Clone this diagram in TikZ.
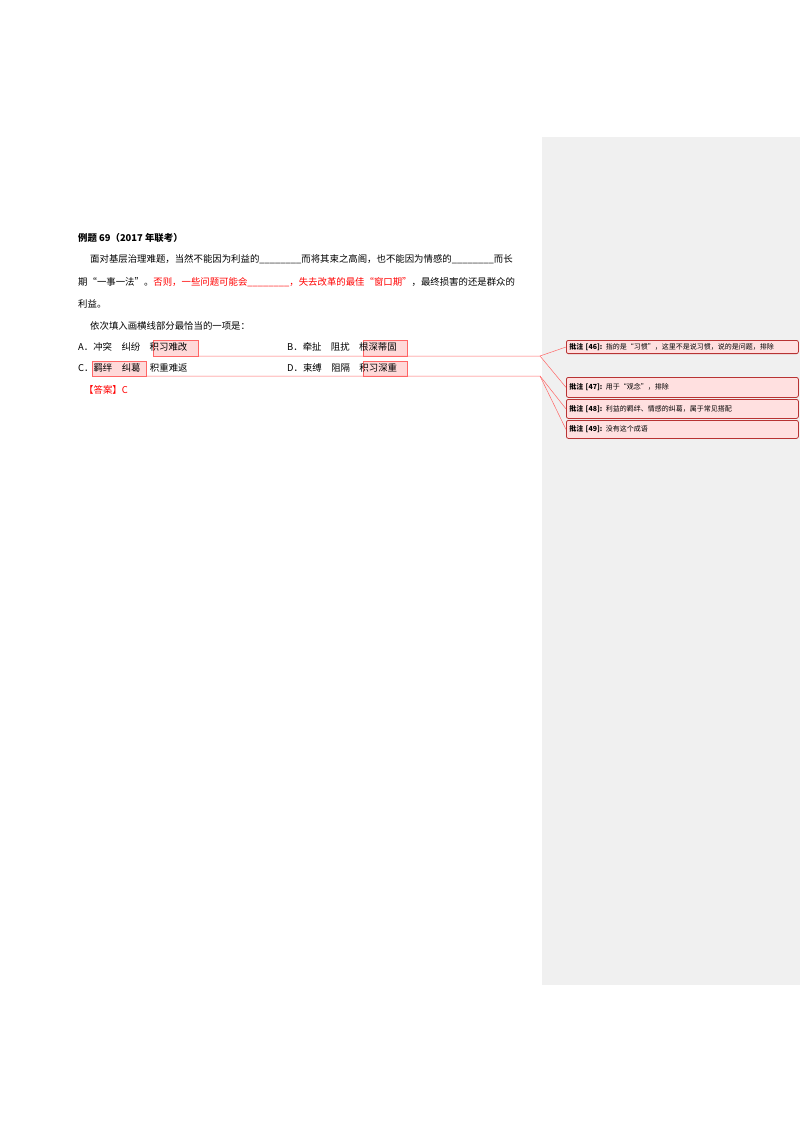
\documentclass[tikz,border=0pt]{standalone}
\usepackage{fontspec}
\setmainfont{Liberation Serif}
\newfontfamily\cjk{Noto Sans CJK SC}
\begin{document}
\begin{tikzpicture}[x=1pt,y=-1pt,
  t/.style={anchor=west,inner sep=0pt,font=\cjk\fontsize{9.4}{10}\selectfont},
  hl/.style={fill=red!15,draw=red!60,line width=0.5pt},
  cb/.style={draw=red!65!black!80,fill=red!12,rounded corners=2pt,line width=0.8pt,anchor=north west,minimum width=232pt,text width=226pt,align=left,inner sep=3pt,font=\cjk\fontsize{7}{13}\selectfont},
  ln/.style={draw=red!60,line width=0.5pt}]
\useasboundingbox (0,0) rectangle (800,1132);
\fill[gray!12] (542,137) rectangle (800,985);
% highlights
\draw[hl] (153,340) rectangle (198,356);
\draw[hl] (363,340) rectangle (407,356);
\draw[hl] (92,361) rectangle (146,376);
\draw[hl] (363,361) rectangle (407,376);
\node[t] (title) at (78,238) {\textbf{例题 69（2017 年联考）}};
\node[t] (l1) at (90,259) {面对基层治理难题，当然不能因为利益的\_\_\_\_\_\_\_\_而将其束之高阁，也不能因为情感的\_\_\_\_\_\_\_\_而长};
\node[t] (l2) at (78,282) {期“一事一法”。\textcolor{red}{否则，一些问题可能会\_\_\_\_\_\_\_\_，失去改革的最佳“窗口期”}，最终损害的还是群众的};
\node[t] (l3) at (78,304) {利益。};
\node[t] (l4) at (90,326) {依次填入画横线部分最恰当的一项是：};
\node[t] (a) at (78,347) {A．冲突\quad 纠纷\quad 积习难改};
\node[t] (b) at (287,347) {B．牵扯\quad 阻扰\quad 根深蒂固};
\node[t] (c) at (78,368) {C．羁绊\quad 纠葛\quad 积重难返};
\node[t] (d) at (287,368) {D．束缚\quad 阻隔\quad 积习深重};
\node[t,text=red] (ans) at (84,390) {【答案】C};
% comments
\node[cb] (c1) at (566,340) {\textbf{批注 [46]:} 指的是“习惯”，这里不是说习惯，说的是问题，排除};
\node[cb,minimum height=20pt] (c2) at (566,377) {\textbf{批注 [47]:} 用于“观念”，排除};
\node[cb,minimum height=19pt] (c3) at (566,399) {\textbf{批注 [48]:} 利益的羁绊、情感的纠葛，属于常见搭配};
\node[cb,minimum height=18pt] (c4) at (566,420) {\textbf{批注 [49]:} 没有这个成语};
\coordinate (j1) at (540,356);
\coordinate (j2) at (540,376);
\draw[ln] (198,356) -- (j1) -- (c1.west);
\draw[ln] (j1) -- (c2.west);
\draw[ln] (146,376) -- (j2) -- (c3.west);
\draw[ln] (j2) -- (c4.west);
\end{tikzpicture}
\end{document}
